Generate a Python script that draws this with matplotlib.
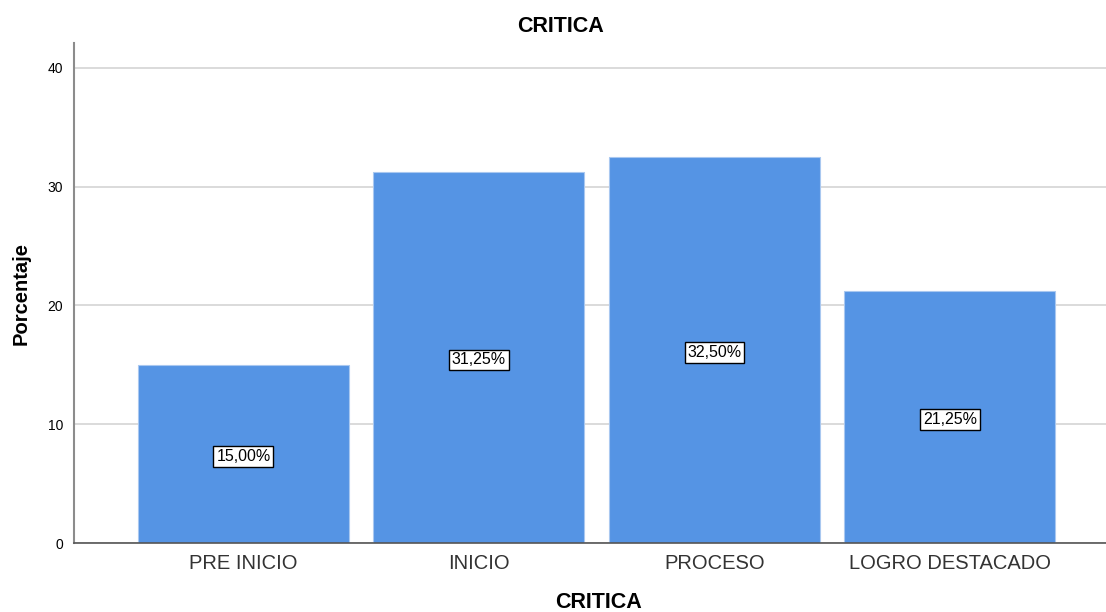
import matplotlib.pyplot as plt
import numpy as np

plt.rcParams["font.family"] = ["Liberation Sans", "DejaVu Sans"]

# --- Data ---
categorias = ["PRE INICIO", "INICIO", "PROCESO", "LOGRO DESTACADO"]
porcentajes = [15.00, 31.25, 32.50, 21.25]
etiquetas = ["15,00%", "31,25%", "32,50%", "21,25%"]
yticks = [0, 10, 20, 30, 40]

# --- Figure ---
fig = plt.figure(figsize=(11.06, 6.12), dpi=100)
ax = fig.add_axes([0.0669, 0.1127, 0.933, 0.817])

x = np.arange(len(categorias))
ax.bar(x, porcentajes, width=0.896, color="#5594e4", edgecolor="#a9c8f0",
       linewidth=0.8, zorder=3)

# value labels in the middle of each bar, nudged down a couple of pixels
for xi, val, lab in zip(x, porcentajes, etiquetas):
    ax.annotate(lab, (xi, val / 2), xytext=(0, -1.8), textcoords="offset points",
                ha="center", va="center", fontsize=11.5, color="black", zorder=4,
                bbox=dict(boxstyle="square,pad=0.18", facecolor="white",
                          edgecolor="black", linewidth=1.0))

ax.set_xlim(-0.7197, 3.662)
ax.set_ylim(0, 42.1)
ax.set_yticks(yticks)
ax.set_xticks(x)
ax.set_xticklabels(categorias, fontsize=14.5, color="#333333")
ax.tick_params(axis="x", length=0, pad=8)
ax.tick_params(axis="y", length=0, labelsize=10, pad=8)

ax.grid(axis="y", color="#d4d4d4", linewidth=1.2, zorder=0)
for s in ["top", "right"]:
    ax.spines[s].set_visible(False)
ax.spines["left"].set_color("#8c8c8c")
ax.spines["left"].set_linewidth(1.5)
ax.spines["bottom"].set_color("#555555")
ax.spines["bottom"].set_linewidth(1.2)
ax.spines["bottom"].set_zorder(5)

# Titles placed in figure coordinates to match the original layout
fig.text(560 / 1106, 1 - 27 / 612, "CRITICA", ha="center", va="center",
         fontsize=15.5, fontweight="bold")
fig.text(598 / 1106, 1 - 603 / 612, "CRITICA", ha="center", va="center",
         fontsize=15.5, fontweight="bold")
fig.text(21 / 1106, 1 - 293 / 612, "Porcentaje", ha="center", va="center",
         rotation=90, fontsize=14.5, fontweight="bold")

plt.savefig("out.png", dpi=100)
